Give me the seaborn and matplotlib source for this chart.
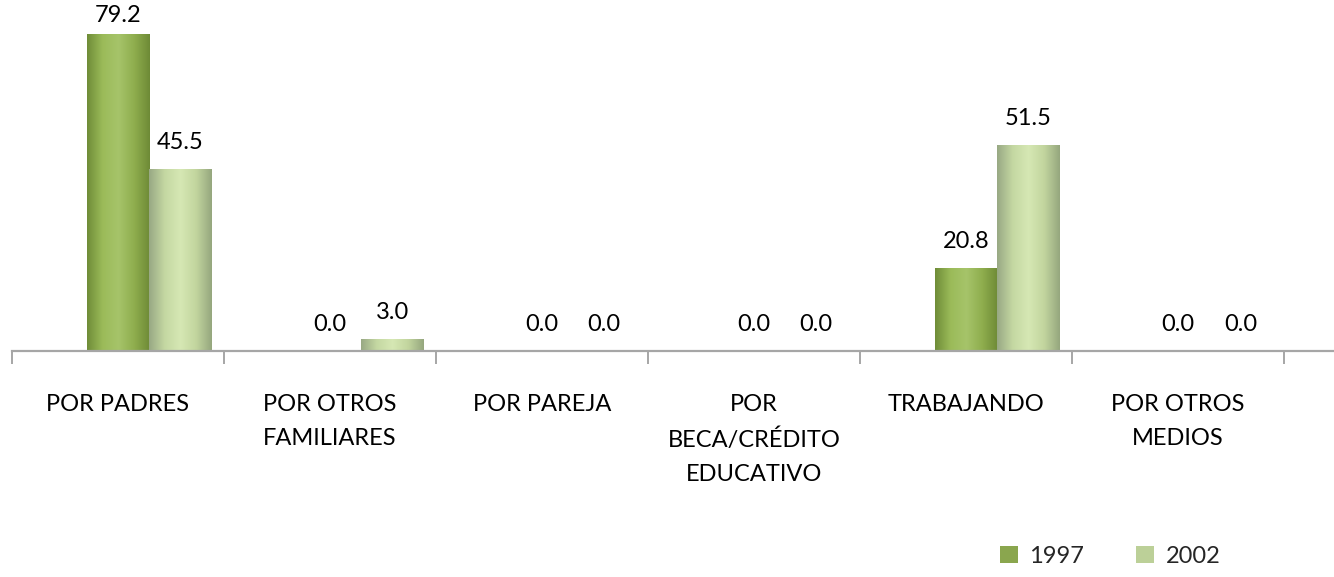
import numpy as np
import pandas as pd
import seaborn as sns
import matplotlib.pyplot as plt
import matplotlib.patches as patches
from matplotlib.colors import LinearSegmentedColormap

# Datos
CATEGORIAS = ['POR PADRES', 'POR OTROS\nFAMILIARES', 'POR PAREJA',
              'POR\nBECA/CRÉDITO\nEDUCATIVO', 'TRABAJANDO', 'POR OTROS\nMEDIOS']
VALORES_1997 = [79.2, 0.0, 0.0, 0.0, 20.8, 0.0]
VALORES_2002 = [45.5, 3.0, 0.0, 0.0, 51.5, 0.0]
SERIES = ['1997', '2002']

# Colores tipo Excel (verde oliva)
COLOR_LEGEND = {'1997': '#8aa64e', '2002': '#bcd098'}
GRADIENTS = {
    '1997': ['#6f8c38', '#9bbb59', '#a6c46a', '#8fae4e', '#6e8a36'],
    '2002': ['#98a884', '#c4d8a2', '#d6e8b4', '#c2d59e', '#95a67e'],
}

sns.set_theme(style='white')
plt.rcParams['font.family'] = ['Lato', 'DejaVu Sans']

df = pd.DataFrame({
    'categoria': CATEGORIAS * 2,
    'valor': VALORES_1997 + VALORES_2002,
    'serie': ['1997'] * len(CATEGORIAS) + ['2002'] * len(CATEGORIAS),
})

fig = plt.figure(figsize=(13.34, 5.77), dpi=100, facecolor='white')
ax = fig.add_axes([12 / 1334, 1 - 351 / 577, 1322 / 1334, 320 / 577])

# an empty first series keeps the Excel-like offset of the bars
sns.barplot(data=df, x='categoria', y='valor', hue='serie',
            hue_order=[' '] + SERIES,
            palette={' ': 'white', '1997': COLOR_LEGEND['1997'], '2002': COLOR_LEGEND['2002']},
            width=0.88, order=CATEGORIAS, legend=False, ax=ax, linewidth=0)

# gradient fill clipped to each bar
for patch, serie in zip(ax.patches, ['1997'] * 6 + ['2002'] * 6):
    h = patch.get_height()
    if h <= 0:
        continue
    x0 = patch.get_x()
    w = patch.get_width()
    cmap = LinearSegmentedColormap.from_list(serie, GRADIENTS[serie])
    grad = np.linspace(0, 1, 256).reshape(1, -1)
    im = ax.imshow(grad, cmap=cmap, aspect='auto', extent=(x0, x0 + w, 0, h), zorder=patch.get_zorder() + 0.1)
    im.set_clip_path(patch)

ax.set_xlim(-0.5, 5.735)
ax.set_ylim(0, 80)

# etiquetas de datos
for patch, v in zip(ax.patches, VALORES_1997 + VALORES_2002):
    cx = patch.get_x() + patch.get_width() / 2
    y = min(v + 4.0, 81.2)
    ax.text(cx, y, f'{v:.1f}', ha='center', va='bottom', fontsize=17, color='black', clip_on=False)

# ejes
for side in ['top', 'right', 'left']:
    ax.spines[side].set_visible(False)
ax.spines['bottom'].set_color('#a6a6a6')
ax.spines['bottom'].set_linewidth(1.6)
ax.set_yticks([])
ax.set_xlabel('')
ax.set_ylabel('')
ax.set_xticks(range(len(CATEGORIAS)))
ax.set_xticklabels(CATEGORIAS, fontsize=17, linespacing=1.75, color='black')
ax.set_xticks(np.arange(-0.5, len(CATEGORIAS), 1.0), minor=True)
ax.tick_params(axis='x', which='major', length=0, pad=31)
ax.tick_params(axis='x', which='minor', bottom=True, length=9, width=1.4, color='#a6a6a6', direction='out')

# leyenda
handles = [patches.Patch(facecolor=COLOR_LEGEND[s], edgecolor='none', label=s) for s in SERIES]
fig.legend(handles=handles, loc='upper left', bbox_to_anchor=(1000 / 1334, 1 - 546 / 577),
           ncol=2, frameon=False, fontsize=17, handlelength=0.75, handleheight=0.75,
           handletextpad=0.5, columnspacing=2.2, borderpad=0, borderaxespad=0)

plt.savefig('out.png', dpi=100)
plt.close()
